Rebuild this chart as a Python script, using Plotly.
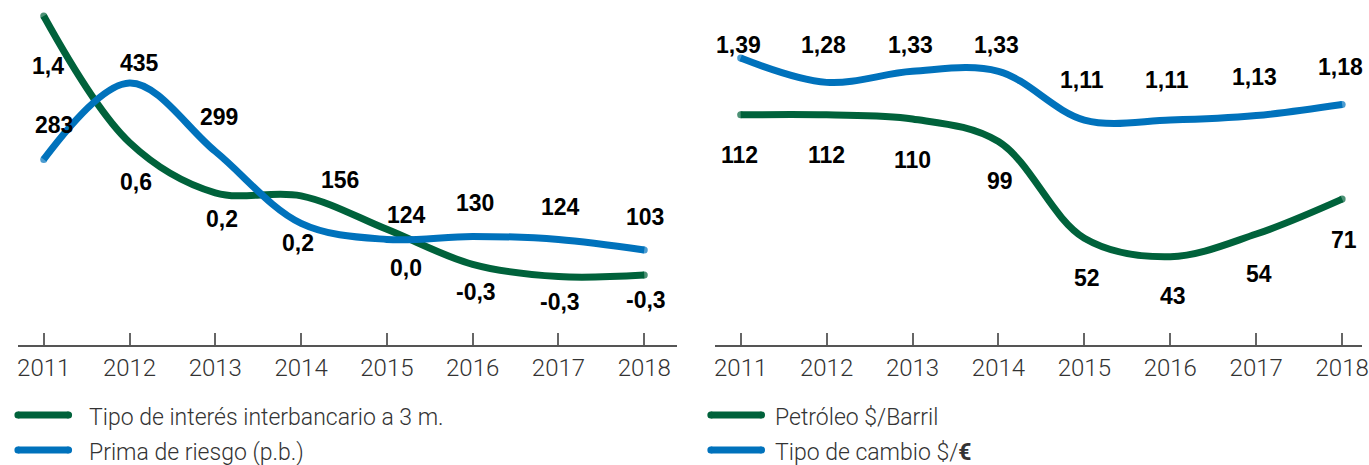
import plotly.graph_objects as go

W, H = 1369, 465

years = [2011, 2012, 2013, 2014, 2015, 2016, 2017, 2018]
year_labels = [str(y) for y in years]

# Left panel
tipo_interes = [1.4, 0.57, 0.24, 0.22, 0.0, -0.23, -0.31, -0.30]
tipo_interes_lbl = ["1,4", "0,6", "0,2", "0,2", "0,0", "-0,3", "-0,3", "-0,3"]
prima_riesgo = [283, 435, 299, 156, 124, 130, 124, 103]
prima_riesgo_lbl = ["283", "435", "299", "156", "124", "130", "124", "103"]

# Right panel
petroleo = [112, 112, 110, 99, 52, 43, 54, 71]
petroleo_lbl = ["112", "112", "110", "99", "52", "43", "54", "71"]
cambio = [1.39, 1.28, 1.33, 1.33, 1.11, 1.11, 1.13, 1.18]
cambio_lbl = ["1,39", "1,28", "1,33", "1,33", "1,11", "1,11", "1,13", "1,18"]

GREEN = "#00623B"
BLUE = "#0072BC"
LW = 7

def px(x):
    return x / W

def py(y):
    return 1 - y / H

def caps(n):
    s = [0] * n
    s[0] = LW
    s[-1] = LW
    return s

fig = go.Figure()

def add_line(vals, color, xa, ya, name):
    fig.add_trace(go.Scatter(
        x=years, y=vals, mode="lines+markers", name=name,
        line=dict(color=color, width=LW, shape="spline", smoothing=1.0),
        marker=dict(size=caps(len(vals)), color=color, line=dict(width=0)),
        xaxis=xa, yaxis=ya, showlegend=False, hoverinfo="skip",
    ))

add_line(tipo_interes, GREEN, "x", "y", "Tipo de interés interbancario a 3 m.")
add_line(prima_riesgo, BLUE, "x", "y2", "Prima de riesgo (p.b.)")
add_line(petroleo, GREEN, "x2", "y3", "Petróleo $/Barril")
add_line(cambio, BLUE, "x2", "y4", "Tipo de cambio $/€")

LBL_FONT = dict(family="Liberation Sans, Arial, sans-serif", size=23, color="#000", weight="bold")

def add_labels(vals, lbls, xref, yref, offsets):
    for x, v, t, (dx, dy) in zip(years, vals, lbls, offsets):
        fig.add_annotation(x=x, y=v, xref=xref, yref=yref, text=t, showarrow=False,
                           xanchor="center", yanchor="middle",
                           xshift=dx, yshift=-dy, font=LBL_FONT)

add_labels(tipo_interes, tipo_interes_lbl, "x", "y",
           [(4, 50), (6, 40), (7, 26), (-3, 47), (19, 39), (3, 28), (2, 25), (2, 25)])
add_labels(prima_riesgo, prima_riesgo_lbl, "x", "y2",
           [(10, -34), (10, -20), (4, -34), (39, -43), (20, -24), (2, -33), (2, -32), (1, -33)])
add_labels(petroleo, petroleo_lbl, "x2", "y3",
           [(-1, 40), (0, 40), (0, 41), (2, 39), (3, 40), (3, 39), (3, 40), (2, 41)])
add_labels(cambio, cambio_lbl, "x2", "y4",
           [(-2, -13), (-3, -37), (-2, -26), (-2, -26), (-2, -40), (-3, -40), (-2, -39), (-2, -38)])

TICK_FONT = dict(family="Roboto, sans-serif", size=24, color="#333", weight=300)
xcommon = dict(showline=True, linecolor="#555", linewidth=1.5, ticks="inside", ticklen=12,
               tickcolor="#666", tickwidth=1.5, tickvals=years, ticktext=year_labels,
               tickfont=TICK_FONT, showgrid=False, zeroline=False, fixedrange=True,
               ticklabeloverflow="allow")
ydom = [1 - 345 / H, 1]
yhidden = dict(visible=False, showgrid=False, zeroline=False, fixedrange=True)

fig.update_layout(
    width=W, height=H, margin=dict(l=0, r=0, t=0, b=0),
    paper_bgcolor="white", plot_bgcolor="white", showlegend=False,
    xaxis=dict(domain=[px(17), px(680)], range=[2010.699, 2018.382], anchor="y", **xcommon),
    yaxis=dict(domain=ydom, range=[-0.759, 1.505], anchor="x", **yhidden),
    yaxis2=dict(range=[-85.9, 600], overlaying="y", anchor="x", **yhidden),
    xaxis2=dict(domain=[px(718), 1.0], range=[2010.699, 2018.231], anchor="y3", **xcommon),
    yaxis3=dict(domain=ydom, range=[0, 167.9], anchor="x2", **yhidden),
    yaxis4=dict(range=[0.094, 1.652], overlaying="y3", anchor="x2", **yhidden),
)

# Manual legends
LEG_FONT = dict(family="Roboto, sans-serif", size=23, color="#333", weight=300)
legend_items = [
    (17, 68, 415, GREEN, "Tipo de interés interbancario a 3 m.", 87),
    (17, 68, 450, BLUE, "Prima de riesgo (p.b.)", 87),
    (714, 765, 415, GREEN, "Petróleo $/Barril", 777),
    (714, 765, 450, BLUE, "Tipo de cambio $/<b>€</b>", 777),
]
shapes = []
for x0, x1, y, c, t, tx in legend_items:
    shapes.append(dict(type="line", xref="paper", yref="paper", x0=px(x0), x1=px(x1),
                       y0=py(y), y1=py(y), line=dict(color=c, width=LW)))
    for xc in (x0, x1):
        shapes.append(dict(type="circle", xref="paper", yref="paper",
                           x0=px(xc - LW / 2), x1=px(xc + LW / 2),
                           y0=py(y + LW / 2), y1=py(y - LW / 2),
                           fillcolor=c, line=dict(width=0)))
    fig.add_annotation(x=px(tx), y=py(y + 2), xref="paper", yref="paper", text=t,
                       showarrow=False, xanchor="left", yanchor="middle", font=LEG_FONT)
fig.update_layout(shapes=shapes)

fig.write_html(
    "out.html",
    config={"displayModeBar": False},
    post_script="document.body.style.margin='0';document.body.style.overflow='hidden';",
)
